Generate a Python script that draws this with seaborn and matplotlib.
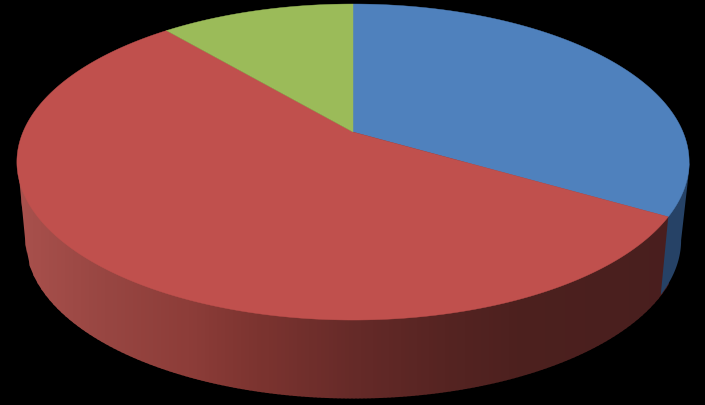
import numpy as np
import matplotlib
matplotlib.use('Agg')
import matplotlib.pyplot as plt
import seaborn as sns

# --- DATA ---
slices = ['Blue', 'Red', 'Green']
shares = [33.4, 55.4, 11.2]
top_colors = ['#4F81BD', '#C0504D', '#9BBB59']

# side shading of the red wall, left to right
red_x = [20, 100, 190, 250, 350, 450, 520, 690]
red_r = [168, 152, 140, 125, 102, 84, 76, 72]
red_g = [80, 70, 60, 52, 42, 35, 32, 30]
red_b = [76, 66, 56, 48, 40, 33, 30, 30]
blue_wall = (0.15, 0.26, 0.40)

# --- GEOMETRY (pixels of the picture) ---
CX, APEX_Y = 353, 133
DROP = 78
TILT, HALF_H, HALF_W = 0.19, 152.3, 330


def project(frac, scale=1.0, drop=0):
    # frac runs clockwise from 12 o'clock, the disc is seen in perspective
    t = 2 * np.pi * np.asarray(frac)
    u, v = np.sin(t), np.cos(t)
    d = 1 + TILT * v
    return CX + scale * HALF_W * u / d, APEX_Y + drop - HALF_H * v / d


sns.set_theme(style='white')
fig = plt.figure(figsize=(7.05, 4.06), dpi=100, facecolor='black')
ax = fig.add_axes([0, 0, 1, 1], facecolor='black')
ax.set_xlim(0, 705)
ax.set_ylim(406, 0)
ax.axis('off')

# lower outline of the wall
t_all = np.linspace(0, 1, 1441)
bx, by = project(t_all, 328 / 336, DROP)
front = by > 241
order = np.argsort(bx[front])
low_x = np.r_[17, bx[front][order], 690]
low_y = np.r_[163, by[front][order], 163]

# slice edge between blue and red on the wall
end = shares[0] / sum(shares)
tx, ty = project(end)
ex, ey = project(end, 328 / 336, DROP)

# red wall, drawn in narrow vertical bands
for x0 in np.arange(17, tx, 4):
    xs = np.array([x0, min(x0 + 5, tx)])
    col = (np.interp(x0, red_x, red_r) / 255,
           np.interp(x0, red_x, red_g) / 255,
           np.interp(x0, red_x, red_b) / 255)
    ax.fill_between(xs, 163, np.interp(xs, low_x, low_y), color=col, lw=0)

# blue wall to the right of the slice edge
mask = low_x >= ex
ax.fill(np.r_[tx, ex, low_x[mask]], np.r_[ty, ey, low_y[mask]], color=blue_wall, lw=0)

# top surface
start = 0.0
for name, share, col in zip(slices, shares, top_colors):
    stop = start + share / sum(shares)
    x, y = project(np.linspace(start, stop, 400))
    ax.fill(np.r_[CX, x], np.r_[APEX_Y, y], color=col, lw=0.3, label=name)
    start = stop

fig.savefig('out.png', dpi=100, facecolor='black')
